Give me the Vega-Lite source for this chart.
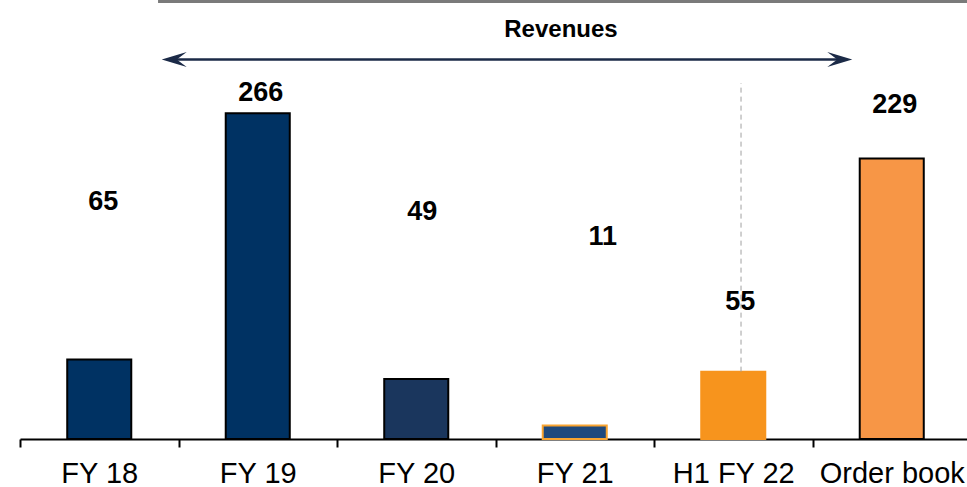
{
  "$schema": "https://vega.github.io/schema/vega-lite/v6.json",
  "autosize": "none",
  "width": 951,
  "height": 439,
  "padding": {"left": 20, "top": 0, "right": 0, "bottom": 48},
  "background": "white",
  "config": {"view": {"stroke": null}, "font": "Liberation Sans"},
  "data": {"values": [
    {"category": "FY 18", "value": 65},
    {"category": "FY 19", "value": 266},
    {"category": "FY 20", "value": 49},
    {"category": "FY 21", "value": 11},
    {"category": "H1 FY 22", "value": 55},
    {"category": "Order book", "value": 229}
  ]},
  "resolve": {"scale": {"x": "independent"}},
  "layer": [
    {
      "encoding": {
        "x": {"field": "category", "type": "nominal", "sort": null,
          "scale": {"paddingInner": 0, "paddingOuter": 0},
          "axis": {"title": null, "labelAngle": 0, "domainColor": "black", "domainWidth": 2,
            "tickColor": "black", "tickWidth": 2, "tickSize": 8, "tickBand": "extent",
            "labelFont": "Liberation Sans", "labelFontSize": 29, "labelColor": "black",
            "labelPadding": 12, "grid": false}}
      },
      "layer": [
        {
          "mark": {"type": "bar", "width": {"band": 0.404}},
          "encoding": {
            "y": {"field": "value", "type": "quantitative", "scale": {"domain": [0, 358.4], "nice": false}, "axis": null},
            "fill": {"field": "category", "type": "nominal", "legend": null,
              "scale": {"domain": ["FY 18", "FY 19", "FY 20", "FY 21", "H1 FY 22", "Order book"],
                "range": ["#003263", "#003263", "#1a365d", "#1f497d", "#f7941d", "#f79646"]}},
            "stroke": {"field": "category", "type": "nominal", "legend": null,
              "scale": {"domain": ["FY 18", "FY 19", "FY 20", "FY 21", "H1 FY 22", "Order book"],
                "range": ["#000000", "#000000", "#000000", "#f9a430", "#f7941d", "#000000"]}},
            "strokeWidth": {"field": "category", "type": "nominal", "legend": null,
              "scale": {"domain": ["FY 18", "FY 19", "FY 20", "FY 21", "H1 FY 22", "Order book"],
                "range": [2, 2, 2, 3, 0.5, 2]}}
          }
        },
        {
          "transform": [{"filter": "datum.category === 'FY 18'"}],
          "mark": {"type": "text", "fontWeight": "bold", "fontSize": 27, "baseline": "middle", "dx": 4, "color": "black"},
          "encoding": {"y": {"datum": 193.5, "type": "quantitative"}, "text": {"field": "value"}}
        },
        {
          "transform": [{"filter": "datum.category === 'FY 19'"}],
          "mark": {"type": "text", "fontWeight": "bold", "fontSize": 27, "baseline": "middle", "dx": 3, "color": "black"},
          "encoding": {"y": {"datum": 282.4, "type": "quantitative"}, "text": {"field": "value"}}
        },
        {
          "transform": [{"filter": "datum.category === 'FY 20'"}],
          "mark": {"type": "text", "fontWeight": "bold", "fontSize": 27, "baseline": "middle", "dx": 6, "color": "black"},
          "encoding": {"y": {"datum": 185.3, "type": "quantitative"}, "text": {"field": "value"}}
        },
        {
          "transform": [{"filter": "datum.category === 'FY 21'"}],
          "mark": {"type": "text", "fontWeight": "bold", "fontSize": 27, "baseline": "middle", "dx": 28, "color": "black"},
          "encoding": {"y": {"datum": 165, "type": "quantitative"}, "text": {"field": "value"}}
        },
        {
          "transform": [{"filter": "datum.category === 'H1 FY 22'"}],
          "mark": {"type": "text", "fontWeight": "bold", "fontSize": 27, "baseline": "middle", "dx": 7, "color": "black"},
          "encoding": {"y": {"datum": 111.8, "type": "quantitative"}, "text": {"field": "value"}}
        },
        {
          "transform": [{"filter": "datum.category === 'Order book'"}],
          "mark": {"type": "text", "fontWeight": "bold", "fontSize": 27, "baseline": "middle", "dx": 3, "color": "black"},
          "encoding": {"y": {"datum": 272.7, "type": "quantitative"}, "text": {"field": "value"}}
        }
      ]
    },
    {
      "data": {"values": [{}]},
      "mark": {"type": "rule", "color": "#7a7a7a", "strokeWidth": 3},
      "encoding": {
        "x": {"datum": 0.871, "type": "quantitative", "scale": {"domain": [0, 6], "nice": false, "zero": false}, "axis": null},
        "x2": {"datum": 6},
        "y": {"datum": 357.1, "type": "quantitative"}
      }
    },
    {
      "data": {"values": [{}]},
      "mark": {"type": "text", "text": "Revenues", "fontWeight": "bold", "fontSize": 24, "baseline": "middle", "color": "black"},
      "encoding": {
        "x": {"datum": 3.413, "type": "quantitative", "scale": {"domain": [0, 6], "nice": false, "zero": false}, "axis": null},
        "y": {"datum": 333.9, "type": "quantitative"}
      }
    },
    {
      "data": {"values": [{}]},
      "mark": {"type": "rule", "color": "#1b2a47", "strokeWidth": 2.5},
      "encoding": {
        "x": {"datum": 0.93, "type": "quantitative", "scale": {"domain": [0, 6], "nice": false, "zero": false}, "axis": null},
        "x2": {"datum": 5.215},
        "y": {"datum": 309.8, "type": "quantitative"}
      }
    },
    {
      "data": {"values": [{}]},
      "mark": {"type": "point", "filled": true, "opacity": 1, "color": "#1b2a47", "size": 625, "shape": "M-1,0L1,-0.6L0.2,0L1,0.6Z"},
      "encoding": {
        "x": {"datum": 0.973, "type": "quantitative", "scale": {"domain": [0, 6], "nice": false, "zero": false}, "axis": null},
        "y": {"datum": 309.8, "type": "quantitative"}
      }
    },
    {
      "data": {"values": [{}]},
      "mark": {"type": "point", "filled": true, "opacity": 1, "color": "#1b2a47", "size": 625, "shape": "M1,0L-1,-0.6L-0.2,0L-1,0.6Z"},
      "encoding": {
        "x": {"datum": 5.172, "type": "quantitative", "scale": {"domain": [0, 6], "nice": false, "zero": false}, "axis": null},
        "y": {"datum": 309.8, "type": "quantitative"}
      }
    },
    {
      "data": {"values": [{}]},
      "mark": {"type": "rule", "color": "#a0a0a0", "strokeWidth": 1, "strokeDash": [5, 4]},
      "encoding": {
        "x": {"datum": 4.549, "type": "quantitative", "scale": {"domain": [0, 6], "nice": false, "zero": false}, "axis": null},
        "y": {"datum": 55, "type": "quantitative"},
        "y2": {"datum": 290.6}
      }
    }
  ]
}
